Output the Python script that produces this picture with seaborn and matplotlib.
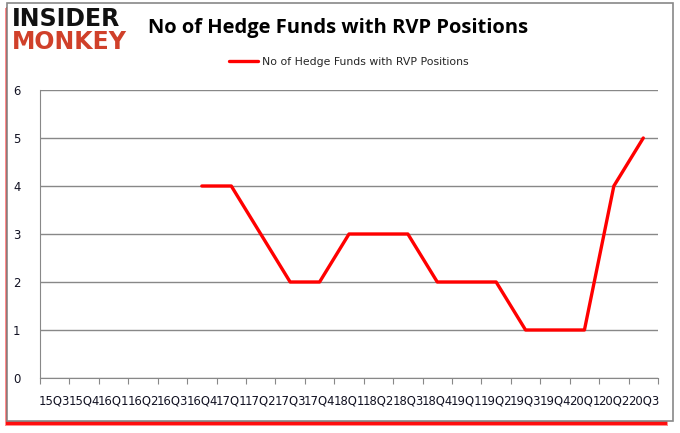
import numpy as np
import pandas as pd
import matplotlib
matplotlib.use("Agg")
import matplotlib.pyplot as plt
import seaborn as sns
from matplotlib.patches import Rectangle

quarters = ["15Q3", "15Q4", "16Q1", "16Q2", "16Q3", "16Q4", "17Q1", "17Q2", "17Q3",
            "17Q4", "18Q1", "18Q2", "18Q3", "18Q4", "19Q1", "19Q2", "19Q3", "19Q4",
            "20Q1", "20Q2", "20Q3"]
funds = [np.nan, np.nan, np.nan, np.nan, np.nan, 4, 4, 3, 2,
         2, 3, 3, 3, 2, 2, 2, 1, 1,
         1, 4, 5]
serie = "No of Hedge Funds with RVP Positions"

df = pd.DataFrame({"quarter": quarters, "funds": funds})
df["pos"] = np.arange(len(quarters)) + 0.5

sns.set_style("white")
plt.rcParams["font.family"] = ["DejaVu Sans"]

fig = plt.figure(figsize=(6.8, 4.33), dpi=100)

# moldura com sombra vermelha
fig.patches.append(Rectangle((5 / 680, 7 / 433), 663 / 680, 418 / 433, transform=fig.transFigure,
                             facecolor="#ff0000", edgecolor="none", alpha=0.45, zorder=-4))
fig.patches.append(Rectangle((6 / 680, 8 / 433), 661 / 680, 418 / 433, transform=fig.transFigure,
                             facecolor="#ff0000", edgecolor="none", alpha=0.9, zorder=-3))
fig.patches.append(Rectangle((7 / 680, 12 / 433), 666 / 680, 418 / 433, transform=fig.transFigure,
                             facecolor="white", edgecolor="#888888", linewidth=1.2, zorder=-2))

ax = fig.add_axes([40 / 680, 55 / 433, 618 / 680, 288 / 433])
ax.set_facecolor("none")
sns.lineplot(data=df, x="pos", y="funds", color="#ff0000", linewidth=2.4, ax=ax, label=serie)

ax.set_xlim(0, len(quarters))
ax.set_ylim(0, 6)
ax.set_yticks(range(7))
ax.yaxis.grid(True, color="#888888", linewidth=1)
ax.set_xticks(np.arange(len(quarters) + 1), minor=False)
ax.set_xticklabels([])
ax.set_xticks(df["pos"], minor=True)
ax.set_xticklabels(quarters, minor=True, fontsize=8.4, color="#111122")
ax.tick_params(axis="x", which="major", length=4, color="#888888", direction="out", bottom=True)
ax.tick_params(axis="x", which="minor", length=0, pad=12)
ax.tick_params(axis="y", length=4, color="#888888", labelsize=8.4, labelcolor="#111122", pad=10)
ax.set_xlabel("")
ax.set_ylabel("")
for lado in ["top", "right"]:
    ax.spines[lado].set_visible(False)
for lado in ["left", "bottom"]:
    ax.spines[lado].set_color("#888888")

leg = ax.legend(loc="center", bbox_to_anchor=(0.5, 1.097), frameon=False,
                fontsize=7.8, handlelength=2.6, handletextpad=0.4)

fig.text(338 / 680, 1 - 28 / 433, serie, ha="center", va="center",
         fontsize=14.5, fontweight="bold", family="Open Sans", color="black")

# logo
fig.text(12 / 680, 1 - 19 / 433, "INSIDER", ha="left", va="center", fontsize=17,
         fontweight="heavy", color="#111111", family="DejaVu Sans")
fig.text(12 / 680, 1 - 42 / 433, "MONKEY", ha="left", va="center", fontsize=17,
         fontweight="heavy", color="#d0402a", family="DejaVu Sans")

fig.savefig("out.png", dpi=100)
